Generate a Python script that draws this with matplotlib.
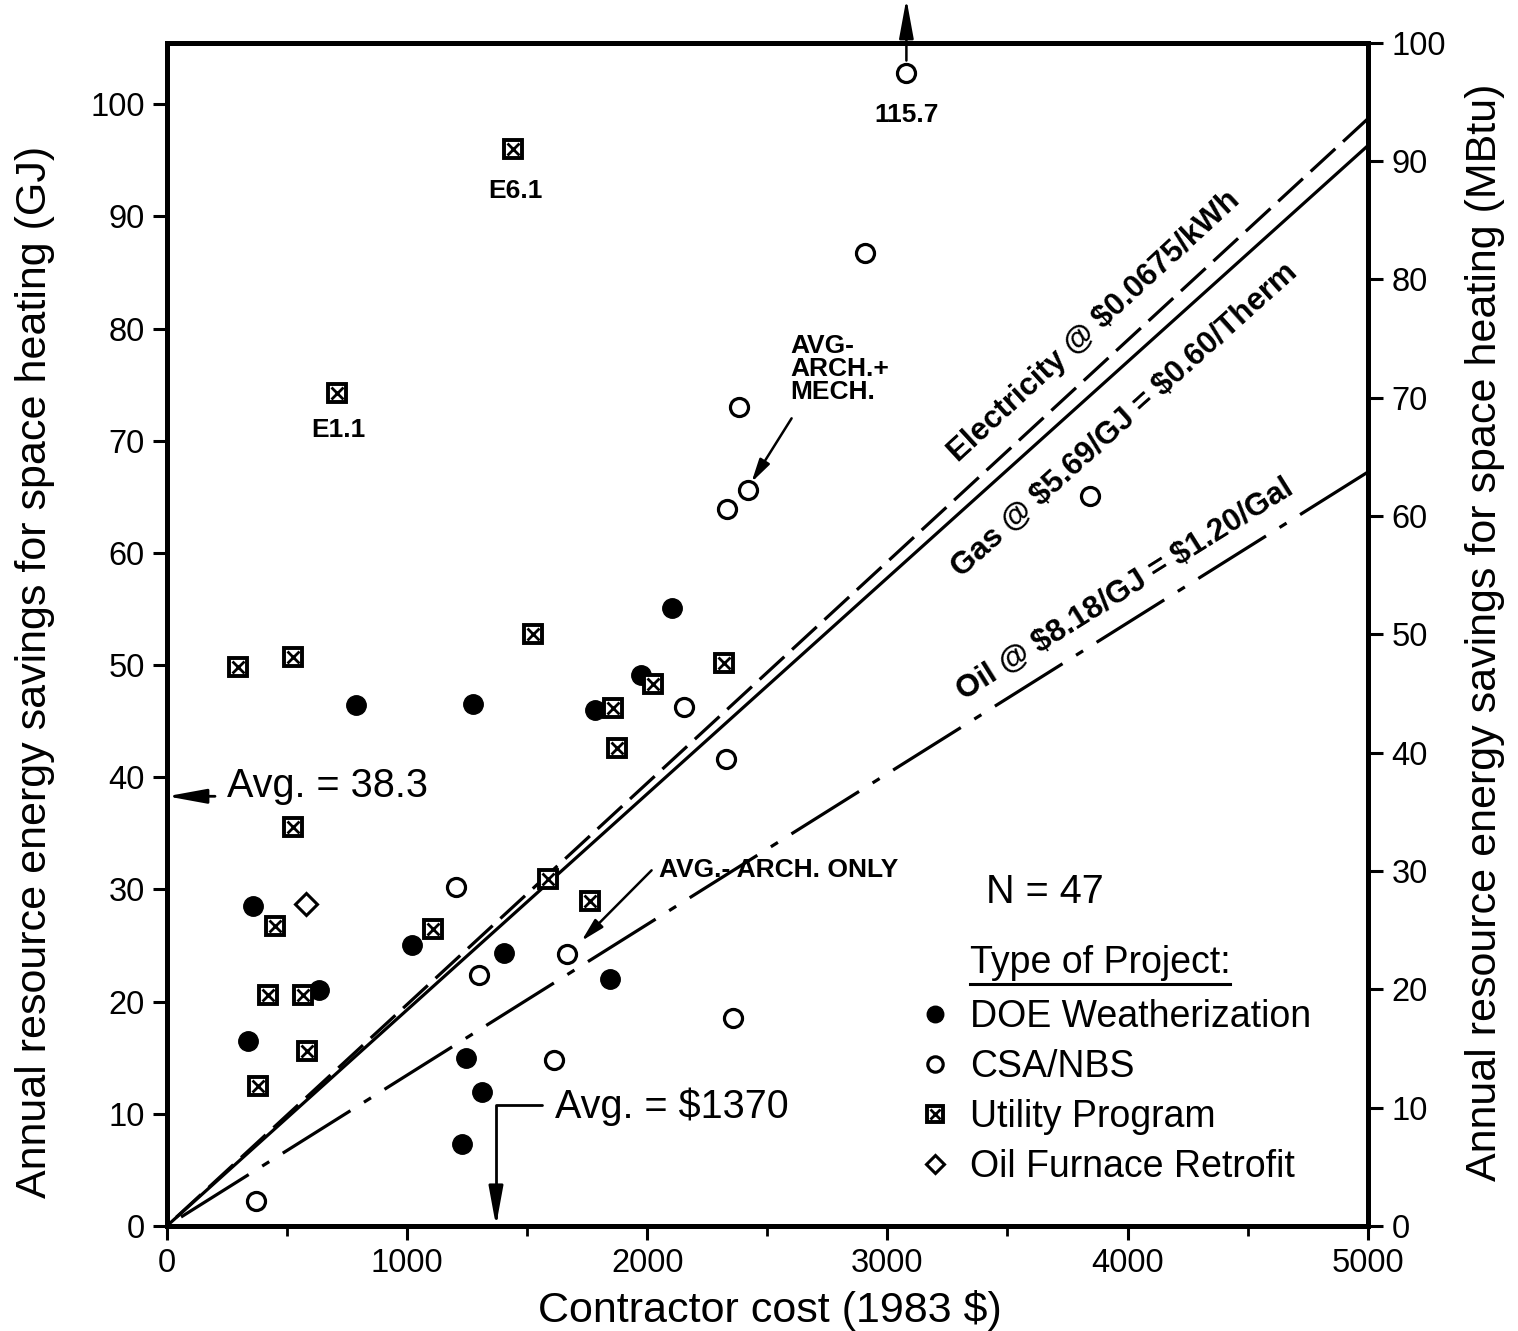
import matplotlib
matplotlib.use('Agg')
import matplotlib.pyplot as plt
from matplotlib.legend_handler import HandlerTuple
from matplotlib.lines import Line2D
import numpy as np

plt.rcParams['font.family'] = ['Liberation Sans', 'DejaVu Sans']

# DOE Weatherization projects (filled circles)
doe_cost = [357, 338, 634, 787, 1275, 1019, 1403, 1244, 1310, 1229, 1844, 1782, 1973, 2101]
doe_gj = [28.5, 16.5, 21.0, 46.4, 46.5, 25.0, 24.3, 15.0, 11.9, 7.3, 22.0, 46.0, 49.1, 55.1]

# CSA/NBS projects (open circles); last one is off scale (115.7) and drawn at the top
csa_cost = [369, 1203, 1300, 1611, 1664, 2152, 2326, 2358, 2330, 2420, 2383, 2906, 3843, 3079]
csa_gj = [2.2, 30.2, 22.4, 14.8, 24.2, 46.3, 41.6, 18.5, 63.9, 65.6, 73.0, 86.7, 65.1, 102.8]

# Utility programs (boxed X)
util_cost = [297, 526, 526, 450, 419, 565, 582, 380, 708, 1440,
             1525, 1109, 1587, 1761, 1856, 1876, 2022, 2320]
util_gj = [49.8, 50.7, 35.6, 26.7, 20.6, 20.6, 15.6, 12.5, 74.3, 96.0,
           52.8, 26.5, 30.9, 29.0, 46.2, 42.6, 48.3, 50.2]

# Oil furnace retrofit (diamond)
oil_cost = [577]
oil_gj = [28.7]

# break-even lines (cost, savings)
line_cost = [0, 5000]
elec_line = [0, 98.7]
gas_line = [0, 96.3]
oil_line = [0, 67.2]

avg_cost = 1370
avg_savings = 38.3
n_projects = 47
off_scale_value = 115.7

GJ_PER_MBTU = 1.055

fig = plt.figure(figsize=(15.18, 13.31), dpi=100)
ax = fig.add_axes([0.110, 0.079, 0.791, 0.889])

# drawn from the right end so the dash pattern meets the right axis
ax.plot(line_cost[::-1], elec_line[::-1], color='black', lw=2.3, linestyle=(0, (10.5, 3.3)))
ax.plot(line_cost, gas_line, color='black', lw=2.3)
ax.plot(line_cost[::-1], oil_line[::-1], color='black', lw=2.3, linestyle=(0, (25, 5, 2.6, 5)))

h_doe, = ax.plot(doe_cost, doe_gj, 'o', color='black', ms=14, mew=1)
h_csa, = ax.plot(csa_cost, csa_gj, 'o', mfc='white', mec='black', ms=13, mew=2.3)
h_sq, = ax.plot(util_cost, util_gj, 's', mfc='white', mec='black', ms=13, mew=2.8)
h_x, = ax.plot(util_cost, util_gj, 'x', color='black', ms=9, mew=2.0)
h_oil, = ax.plot(oil_cost, oil_gj, 'D', mfc='white', mec='black', ms=11, mew=2.2)

arrow = dict(arrowstyle='-|>,head_length=1.2,head_width=0.22', color='black', lw=2,
             shrinkA=0, shrinkB=0, mutation_scale=20)

# average savings marker on left axis
ax.annotate('', xy=(0, avg_savings), xytext=(200, avg_savings), arrowprops=arrow,
            annotation_clip=False)
ax.text(249, 39.2, 'Avg. = %.1f' % avg_savings, fontsize=28.5, va='center', ha='left')

# average cost marker
ax.annotate('', xy=(avg_cost, 0), xytext=(1560, 10.75),
            arrowprops=dict(arrow, connectionstyle='angle,angleA=180,angleB=90,rad=0'))
ax.text(1615, 10.6, 'Avg. = \\$%d' % avg_cost, fontsize=28.5, va='center', ha='left')

# off scale point
ax.annotate('', xy=(csa_cost[-1], 109.4), xytext=(csa_cost[-1], 103.9),
            arrowprops=dict(arrow, lw=1.8), annotation_clip=False)
ax.text(csa_cost[-1], 99.0, '%.1f' % off_scale_value, fontsize=19, fontweight='bold',
        ha='center', va='center')

ax.text(1449, 92.3, 'E6.1', fontsize=19, fontweight='bold', ha='center', va='center')
ax.text(712, 71.0, 'E1.1', fontsize=19, fontweight='bold', ha='center', va='center')

small_arrow = dict(arrowstyle='-|>,head_length=1.0,head_width=0.25', color='black', lw=1.8,
                   shrinkA=0, shrinkB=0, mutation_scale=14)
ax.annotate('', xy=(1726, 25.4), xytext=(2018, 31.7), arrowprops=small_arrow)
ax.text(2050, 31.75, 'AVG.- ARCH. ONLY', fontsize=19, fontweight='bold', ha='left', va='center')
ax.annotate('', xy=(2434, 66.3), xytext=(2601, 72.0), arrowprops=small_arrow)
ax.text(2594, 79.5, 'AVG-\nARCH.+\nMECH.', fontsize=19, fontweight='bold', ha='left', va='top',
        linespacing=0.95)

# labels along the break-even lines
for (x, y, line, txt) in [(3863, 80.2, elec_line, 'Electricity @ \\$0.0675/kWh'),
                          (3988, 71.8, gas_line, 'Gas @ \\$5.69/GJ = \\$0.60/Therm'),
                          (3988, 56.7, oil_line, 'Oil @ \\$8.18/GJ = \\$1.20/Gal')]:
    ang = np.degrees(np.arctan2(line[1], line_cost[1]))
    ax.text(x, y, txt, fontsize=22.5, fontweight='bold', ha='center', va='center',
            rotation=ang, rotation_mode='anchor', transform_rotates_text=True)

ax.text(3655, 29.8, 'N = %d' % n_projects, fontsize=28.5, ha='center', va='center')
title = ax.text(3343, 23.4, 'Type of Project:', fontsize=27, ha='left', va='center')

ax.legend([h_doe, h_csa, (h_sq, h_x), h_oil],
          ['DOE Weatherization', 'CSA/NBS', 'Utility Program', 'Oil Furnace Retrofit'],
          handler_map={tuple: HandlerTuple(ndivide=1)},
          loc='upper left', bbox_to_anchor=(3122, 20.2), bbox_transform=ax.transData,
          frameon=False, fontsize=27, handlelength=0.95, handletextpad=0.47,
          labelspacing=0.37, borderpad=0, borderaxespad=0, markerscale=0.85)

ax.set_xlim(0, 5000)
ax.set_ylim(0, 105.5)
ax.set_xticks(np.arange(0, 5001, 1000))
ax.set_xticks(np.arange(0, 5001, 500), minor=True)
ax.set_yticks(np.arange(0, 101, 10))
ax.tick_params(axis='both', which='major', direction='out', length=10, width=2.2,
               labelsize=23.5, pad=6)
ax.tick_params(axis='x', which='minor', direction='out', length=7, width=2)
for s in ax.spines.values():
    s.set_linewidth(3.6)

sec = ax.secondary_yaxis('right', functions=(lambda g: g / GJ_PER_MBTU,
                                             lambda m: m * GJ_PER_MBTU))
sec.set_yticks(np.arange(0, 101, 10))
sec.tick_params(direction='out', length=11, width=2.2, labelsize=23.5, pad=6)
sec.spines['right'].set_linewidth(3.6)

ax.set_xlabel('Contractor cost (1983 \\$)', fontsize=31)
ax.xaxis.set_label_coords(0.502, -0.054)
ax.set_ylabel('Annual resource energy savings for space heating (GJ)', fontsize=31)
ax.yaxis.set_label_coords(-0.093, 0.468)
sec.set_ylabel('Annual resource energy savings for space heating (MBtu)', fontsize=31)
sec.yaxis.set_label_coords(1.081, 0.502, transform=ax.transAxes)

# underline the legend heading
fig.canvas.draw()
bb = title.get_window_extent().transformed(fig.transFigure.inverted())
fig.add_artist(Line2D([bb.x0, bb.x1], [bb.y0 - 0.002, bb.y0 - 0.002],
                      transform=fig.transFigure, color='black', lw=2.2))

fig.savefig('out.png', dpi=100)
